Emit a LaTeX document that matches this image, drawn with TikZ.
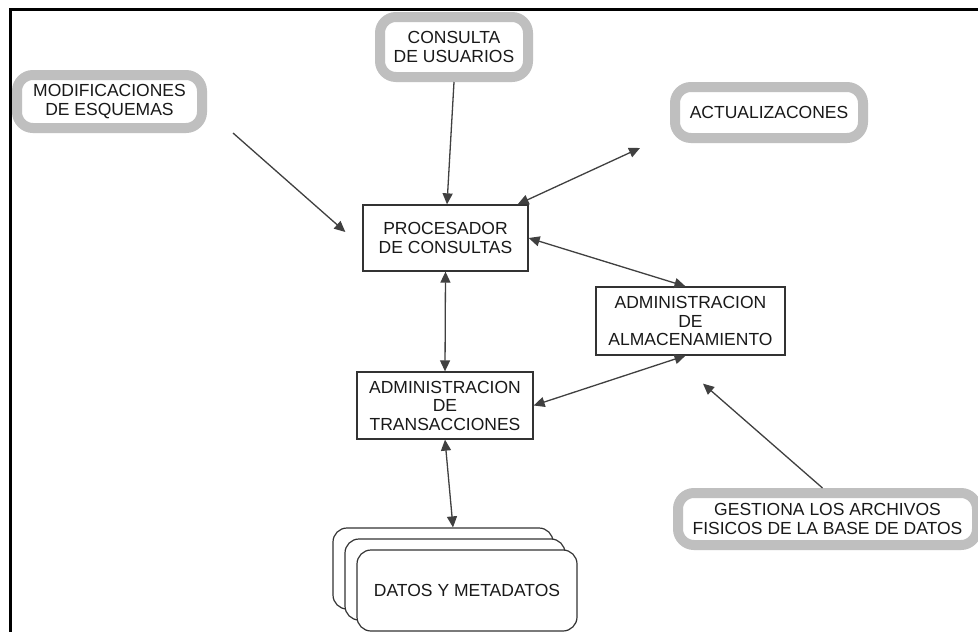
\documentclass[tikz,border=0pt]{standalone}
\usepackage{fontspec}
\setmainfont{Liberation Sans}
\usetikzlibrary{arrows.meta,calc}
\begin{document}
\begin{tikzpicture}[x=1pt,y=-1pt,
  >={Triangle[length=11pt,width=10pt]},
  txt/.style={font=\fontsize{17.5}{18.5}\selectfont, text=black!90, align=center, inner sep=0pt},
  cloud/.style={txt, draw=black!25, line width=10pt, rounded corners=16pt, outer sep=5pt},
  procbox/.style={txt, draw=black!80, line width=1.3pt, fill=white},
  stackbox/.style={draw=black!80, line width=1.2pt, fill=white, rounded corners=14pt,
                   minimum width=220pt, minimum height=81pt, inner sep=0pt},
  link/.style={draw=black!75, line width=1.3pt}
]
\useasboundingbox (0,0) rectangle (978,632);
\fill[white] (0,0) rectangle (978,632);

% frame
\draw[line width=3pt] (10.5,640) -- (10.5,9.5) -- (982,9.5);

% grey rounded labels
\node[cloud, minimum width=185pt, minimum height=53pt] (modif) at (109.5,101.5) {MODIFICACIONES\\DE ESQUEMAS};
\node[cloud, minimum width=148pt, minimum height=60pt] (cons) at (454,47) {CONSULTA\\DE USUARIOS};
\node[cloud, minimum width=188pt, minimum height=51pt] (act) at (769,112.5) {ACTUALIZACONES};
\node[cloud, minimum width=299pt, minimum height=52pt] (gest) at (827.5,519) {GESTIONA LOS ARCHIVOS\\FISICOS DE LA BASE DE DATOS};

% processing boxes
\node[procbox, minimum width=165pt, minimum height=66pt] (proc) at (445.5,238) {PROCESADOR\\DE CONSULTAS};
\node[procbox, minimum width=189pt, minimum height=68pt] (alm) at (690.5,321) {ADMINISTRACION\\DE\\ALMACENAMIENTO};
\node[procbox, minimum width=176pt, minimum height=67pt] (trans) at (445,405.5) {ADMINISTRACION\\DE\\TRANSACCIONES};

% stacked data store
\node[stackbox] (datosC) at (443,568.5) {};
\node[stackbox] (datosB) at (455,579.5) {};
\node[stackbox, txt] (datos) at (467,590.5) {DATOS Y METADATOS};

% free connector ends
\coordinate (modStart) at ($(modif.south east)+(26,0)$);
\coordinate (modEnd) at ($(proc.west)+(-17,-6)$);
\coordinate (actEnd) at ($(act.south west)+(-30,5)$);
\coordinate (gestEnd) at ($(alm.south)+(12.5,28)$);

% connectors
\draw[link,->] (modStart) -- (modEnd);
\draw[link,->] (cons.south) -- ($(proc.north)+(1.5,0)$);
\draw[link,<->] ($(proc.north east)+(-11,0)$) -- (actEnd);
\draw[link,<->] (proc.east) -- ($(alm.north)+(-5,0)$);
\draw[link,<->] (proc.south) -- (trans.north);
\draw[link,<->] ($(alm.south)+(-5,0)$) -- (trans.east);
\draw[link,<->] (trans.south) -- ($(datosC.north)+(10,0)$);
\draw[link,->] ($(gest.north)+(-5,0)$) -- (gestEnd);
\end{tikzpicture}
\end{document}
